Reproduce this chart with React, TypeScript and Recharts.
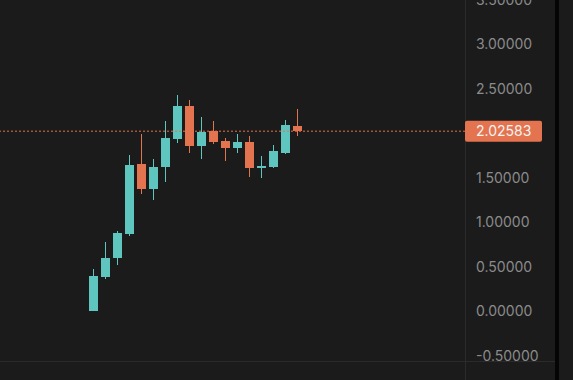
import { Bar, BarChart, ReferenceLine, XAxis, YAxis } from "recharts";

const BG = "#1b1b1b";
const UP = "#5ec5bf";
const DOWN = "#e4734f";
const TICK_FILL = "#8b8b8b";
const LINE = "#2b2b2b";
const FONT = "Inter, 'Noto Sans', sans-serif";

// empty slots before / after the candles on the time axis
const LEAD = 7;
const TRAIL = 13;

const opens = [0.005, 0.385, 0.599, 0.869, 1.66, 1.374, 1.621, 1.936, 2.311, 1.857, 2.03, 1.918, 1.835, 1.899, 1.61, 1.621, 1.779, 2.08];
const highs = [0.48, 0.783, 0.91, 1.764, 1.989, 1.708, 2.146, 2.438, 2.382, 2.18, 2.143, 1.955, 1.997, 1.974, 1.742, 1.873, 2.154, 2.27];
const lows = [0.0, 0.363, 0.525, 0.851, 1.318, 1.251, 1.453, 1.891, 1.779, 1.711, 1.879, 1.689, 1.779, 1.509, 1.498, 1.61, 1.767, 1.974];
const closes = [0.4, 0.603, 0.884, 1.648, 1.374, 1.626, 1.952, 2.311, 1.857, 2.019, 1.902, 1.835, 1.899, 1.61, 1.64, 1.798, 2.09, 2.02583];

const LAST_PRICE = 2.02583;
// 2.00000 sits under the last-price tag, so it is not shown
const Y_TICKS = [-0.5, 0, 0.5, 1, 1.5, 2.5, 3, 3.5];
const Y_DOMAIN: [number, number] = [-0.5618, 3.5];

type Slot = {
  slot: string;
  open: number | null;
  high: number | null;
  low: number | null;
  close: number | null;
  range: [number, number] | null;
};

const data: Slot[] = [];
for (let i = 0; i < LEAD + opens.length + TRAIL; i++) {
  const k = i - LEAD;
  const has = k >= 0 && k < opens.length;
  data.push({
    slot: `s${i}`,
    open: has ? opens[k] : null,
    high: has ? highs[k] : null,
    low: has ? lows[k] : null,
    close: has ? closes[k] : null,
    range: has ? [lows[k], highs[k]] : null,
  });
}

/** Draws one candle inside the [low, high] bar that recharts positions. */
function Candle(props: any) {
  const { x, y, width, height, payload } = props;
  if (!payload || payload.open == null || !height) return <g />;
  const top = Math.min(y, y + height);
  const h = Math.abs(height);
  const { open, close, high, low } = payload as any;
  const k = h / (high - low);
  const yOf = (v: number) => top + (high - v) * k;
  const up = close >= open;
  const color = up ? UP : DOWN;
  const bodyTop = yOf(Math.max(open, close));
  const bodyBottom = yOf(Math.min(open, close));
  const cx = x + width / 2;
  return (
    <g shapeRendering="crispEdges">
      <rect x={cx - 0.5} y={top} width={1} height={h} fill={color} />
      <rect
        x={x}
        y={bodyTop}
        width={width}
        height={Math.max(1, bodyBottom - bodyTop)}
        fill={color}
      />
    </g>
  );
}

function PriceTag(props: any) {
  const vb = props.viewBox ?? {};
  const right = (vb.x ?? 0) + (vb.width ?? 0);
  const cy = vb.y ?? 0;
  return (
    <g>
      <rect x={right} y={cy - 10.5} width={77} height={21} rx={2} fill={DOWN} />
      <text
        x={right + 11}
        y={cy}
        dy="0.36em"
        fill="#f4f4f4"
        fontSize={14}
        fontFamily={FONT}
      >
        {LAST_PRICE.toFixed(5)}
      </text>
    </g>
  );
}

export default function App() {
  return (
    <div
      style={{
        position: "fixed",
        left: 0,
        top: 0,
        width: 573,
        height: 380,
        background: BG,
        overflow: "hidden",
      }}
    >
      <div style={{ position: "absolute", left: 465, top: 0, width: 1, height: 380, background: LINE }} />
      <div style={{ position: "absolute", left: 0, top: 361, width: 555, height: 1, background: LINE }} />
      <div style={{ position: "absolute", left: 555, top: 0, width: 4, height: 380, background: "#050505" }} />
      <div style={{ position: "absolute", left: 0, top: -0.5 }}>
        <BarChart
          width={573}
          height={380}
          data={data}
          margin={{ top: 0, right: 0, bottom: 18.5, left: 0 }}
          barSize={9}
        >
          <XAxis dataKey="slot" hide padding={{ left: 2.5, right: 6.5 }} />
          <YAxis
            orientation="right"
            width={108}
            domain={Y_DOMAIN}
            allowDataOverflow
            ticks={Y_TICKS}
            interval={0}
            axisLine={false}
            tickLine={false}
            tickSize={0}
            tickMargin={11}
            tick={{ fill: TICK_FILL, fontSize: 14, fontFamily: FONT, textAnchor: "start" }}
            tickFormatter={(v) => Number(v).toFixed(5)}
          />
          <ReferenceLine
            y={LAST_PRICE}
            stroke={DOWN}
            strokeDasharray="2 2"
            strokeWidth={1}
            label={<PriceTag />}
          />
          <Bar dataKey="range" shape={<Candle />} isAnimationActive={false} />
        </BarChart>
      </div>
    </div>
  );
}
